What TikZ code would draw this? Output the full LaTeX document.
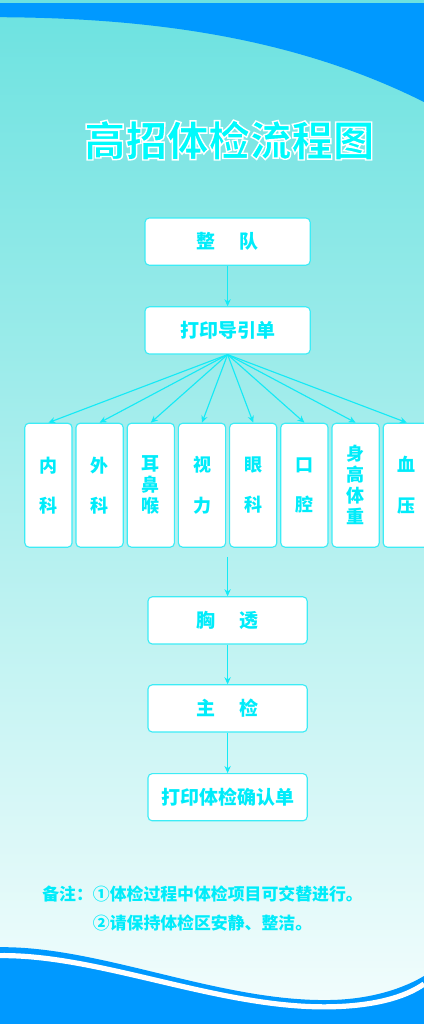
\documentclass[tikz,border=0pt]{standalone}
\usepackage{fontspec}
\setmainfont{Noto Sans CJK SC}
\usetikzlibrary{arrows.meta}
\definecolor{qing}{RGB}{0,236,250}
\definecolor{biaotise}{RGB}{0,250,252}
\definecolor{kuangse}{RGB}{60,236,246}
\definecolor{jiantou}{RGB}{20,234,246}
\definecolor{lanse}{RGB}{0,153,255}
\definecolor{bgShang}{RGB}{108,226,224}
\definecolor{bgZhong}{RGB}{192,243,243}
\definecolor{bgXia}{RGB}{244,253,253}
% contorno blanco del titulo (modo de texto 2: relleno y trazo)
\newcommand{\conborde}[1]{\special{pdf:literal direct 2 Tr 1.0 w 1 1 1 RG}#1\special{pdf:literal direct 0 Tr}}

\begin{document}
\begin{tikzpicture}[
      kuang/.style={draw=kuangse, line width=0.8pt, fill=white, rounded corners=3pt, minimum width=4.13cm, minimum height=1.18cm, text=qing, font=\fontsize{13.5}{16}\selectfont\bfseries},
      keshi/.style={draw=kuangse, line width=0.8pt, fill=white, rounded corners=3pt, minimum width=1.18cm, minimum height=3.1cm, align=center, text=qing},
      kuan/.style={font=\fontsize{12.8}{28.5}\selectfont\bfseries},
      zhai/.style={font=\fontsize{12.8}{15}\selectfont\bfseries},
      jt/.style={draw=jiantou, line width=0.8pt, -{Stealth[length=5pt,width=4.5pt]}},
      biaoti/.style={text=biaotise, font=\fontsize{29.5}{32}\selectfont\bfseries},
      beizhu/.style={text=qing, font=\fontsize{12}{20.6}\selectfont\bfseries}
    ]
    % --- fondo ---
    \clip (0,0) rectangle (10.6,-25.6);
    \shade[top color=bgShang, middle color=bgZhong, bottom color=bgXia] (0,0) rectangle (10.6,-25.6);
    \fill[lanse] (0,-0.08) -- (10.6,-0.08) -- (10.6,-2.55) .. controls (7.5,-1.0) and (4,-0.45) .. (0,-0.43) -- cycle;
    \fill[lanse] (0,-23.68) .. controls (2.5,-23.65) and (5.5,-25.05) .. (8.25,-25.0) .. controls (9.3,-24.98) and (10.1,-24.7) .. (10.6,-24.4) -- (10.6,-25.6) -- (0,-25.6) -- cycle;
    \draw[white, line width=0.13cm] (0,-23.89) .. controls (2.5,-23.86) and (5.5,-25.22) .. (8.25,-25.17) .. controls (9.3,-25.15) and (10.1,-24.95) .. (10.6,-24.6);

    % --- titulo ---
    \node[biaoti] (biaoti) at (5.73,-3.5) {\conborde{高招体检流程图}};

    % --- pasos ---
    \node[kuang] (zhengdui) at (5.69,-6.04) {整\hspace{1.3em}队};
    \node[kuang] (daoyin) at (5.69,-8.26) {打印导引单};
    \draw[jt] (zhengdui) -- (daoyin);

    % --- ocho secciones ---
    \node[keshi, kuan] (neike) at (1.21,-12.13) {内\\科};
    \node[keshi, kuan] (waike) at (2.49,-12.13) {外\\科};
    \node[keshi, zhai] (erbihou) at (3.77,-12.13) {耳\\鼻\\喉};
    \node[keshi, kuan] (shili) at (5.05,-12.13) {视\\力};
    \node[keshi, kuan] (yanke) at (6.33,-12.13) {眼\\科};
    \node[keshi, kuan] (kouqiang) at (7.61,-12.13) {口\\腔};
    \node[keshi, zhai] (shengao) at (8.89,-12.13) {身\\高\\体\\重};
    \node[keshi, kuan] (xueya) at (10.17,-12.13) {血\\压};
    \draw[jt] (daoyin.south) -- (neike.north);
    \draw[jt] (daoyin.south) -- (waike.north);
    \draw[jt] (daoyin.south) -- (erbihou.north);
    \draw[jt] (daoyin.south) -- (shili.north);
    \draw[jt] (daoyin.south) -- (yanke.north);
    \draw[jt] (daoyin.south) -- (kouqiang.north);
    \draw[jt] (daoyin.south) -- (shengao.north);
    \draw[jt] (daoyin.south) -- (xueya.north);

    % --- final ---
    \coordinate (hangdi) at (5.69,-13.92);
    \node[kuang, minimum width=3.98cm] (xiongtou) at (5.69,-15.51) {胸\hspace{1.3em}透};
    \node[kuang, minimum width=3.98cm] (zhujian) at (5.69,-17.71) {主\hspace{1.3em}检};
    \node[kuang, minimum width=3.98cm] (queren) at (5.69,-19.93) {打印体检确认单};
    \draw[jt] (hangdi) -- (xiongtou);
    \draw[jt] (xiongtou) -- (zhujian);
    \draw[jt] (zhujian) -- (queren);

    % --- notas ---
    \node[beizhu, anchor=west, inner sep=0pt] (beizhu) at (1.05,-22.72) {\begin{tabular}{@{}l@{}l@{}}备注：&①体检过程中体检项目可交替进行。\\ &②请保持体检区安静、整洁。\end{tabular}};
  \end{tikzpicture}
\end{document}
